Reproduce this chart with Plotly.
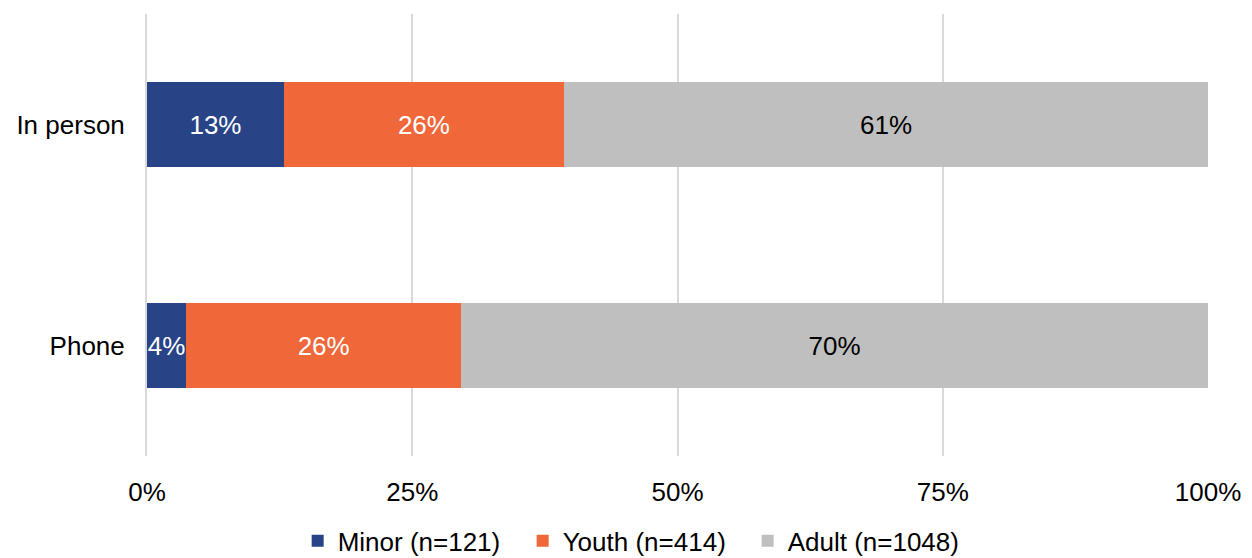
import plotly.graph_objects as go

categories = ["Phone", "In person"]
minor = [0.037, 0.129]
youth = [0.259, 0.264]
adult = [0.704, 0.607]
series_names = ["Minor (n=121)", "Youth (n=414)", "Adult (n=1048)"]
tick_vals = [0, 0.25, 0.5, 0.75, 1.0]
tick_text = ["0%", "25%", "50%", "75%", "100%"]

colors = ["#284487", "#F0673A", "#BFBFBF"]
text_colors = ["white", "white", "black"]
FONT = "Liberation Sans, Arial, sans-serif"

fig = go.Figure()
for name, vals, c, tc in zip(series_names, [minor, youth, adult], colors, text_colors):
    fig.add_trace(go.Bar(
        y=categories, x=vals, name=name, orientation="h",
        marker=dict(color=c, line=dict(width=0)),
        texttemplate="%{x:.0%}", textposition="inside", insidetextanchor="middle",
        textangle=0,
        textfont=dict(color=tc, size=26, family=FONT),
        constraintext="none",
    ))

# page has an 8px body margin; figure sized so plot area lands at 147..1208 x 14..456
fig.update_layout(
    barmode="stack",
    bargap=0.615,
    width=1244, height=550,
    margin=dict(l=139, r=44, t=6, b=102, autoexpand=False),
    plot_bgcolor="white", paper_bgcolor="white",
    font=dict(family=FONT, size=26, color="black"),
    uniformtext=dict(minsize=26, mode="show"),
    legend=dict(orientation="h", x=0.142, xanchor="left", y=-0.192, yanchor="middle",
                font=dict(size=26), traceorder="normal", itemwidth=30,
                entrywidth=180, entrywidthmode="pixels"),
    showlegend=True,
)
fig.update_xaxes(range=[0, 1], tickvals=tick_vals, ticktext=tick_text,
                 showgrid=True, gridcolor="#D9D9D9", gridwidth=2, zeroline=False,
                 showline=False, ticks="", ticklabelstandoff=18, fixedrange=True,
                 automargin=False)
fig.update_yaxes(showgrid=False, zeroline=False, showline=True, linecolor="#D9D9D9",
                 linewidth=2, ticks="", ticklabelstandoff=15, fixedrange=True,
                 automargin=False)

fig.write_html("out.html")
